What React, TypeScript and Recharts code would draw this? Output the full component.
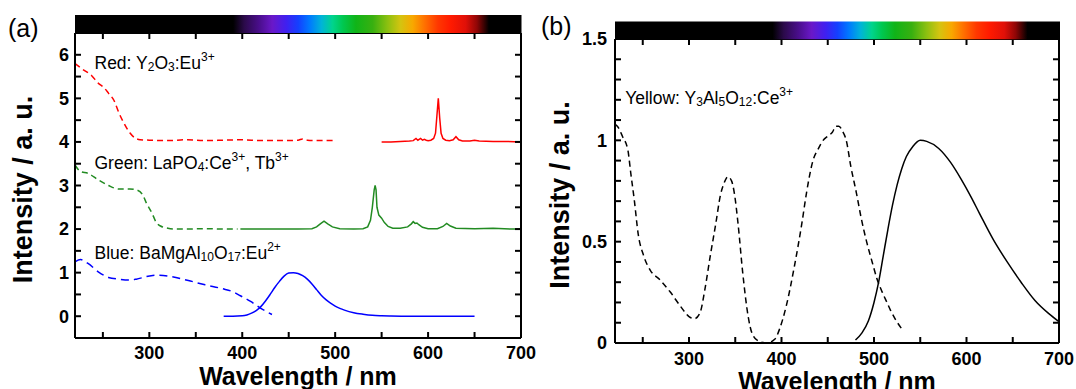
import React from 'react';
import { ComposedChart, Line, Scatter, XAxis, YAxis, ReferenceDot } from 'recharts';

const FONT = '"Liberation Sans", Arial, sans-serif';

// shared wavelength axis
const wlDomain: [number, number] = [220, 700];
const wlTicks = [250, 300, 350, 400, 450, 500, 550, 600, 650, 700];

// colour bar above each panel
const specWl = [390, 402, 418, 432, 447, 460, 472, 485, 497, 508, 522, 540, 556, 570, 583, 596, 610, 624, 640, 652, 665];
const specColor = [
  '#000000', '#2b0a4a', '#4a0e8c', '#6a18c8', '#4020f0', '#1440ff', '#0078ff', '#00b4d8', '#00d48c', '#00c850',
  '#10b418', '#38b010', '#8cc010', '#d4c410', '#f8a800', '#ff7000', '#ff3800', '#ff1a00', '#e01008', '#900606', '#000000',
];

// panel (a)
const aYDomain: [number, number] = [-0.5, 6.5];
const aYTicks = [0, 0.5, 1, 1.5, 2, 2.5, 3, 3.5, 4, 4.5, 5, 5.5, 6];

const redExWl = [220, 228, 238, 245, 251, 256, 262, 267, 273, 279, 284, 290, 300, 320, 340, 360, 380, 400, 420, 440, 460, 465, 470, 480, 500];
const redExI = [5.8, 5.67, 5.52, 5.35, 5.25, 5.12, 4.95, 4.68, 4.42, 4.21, 4.1, 4.05, 4.04, 4.03, 4.05, 4.03, 4.04, 4.05, 4.03, 4.03, 4.04, 4.07, 4.04, 4.03, 4.03];

const redEmWl = [550, 560, 570, 580, 584, 587, 589, 592, 594, 596, 598, 600, 603, 606, 608, 609.5, 611, 612.5, 614, 616, 619, 623, 627, 630, 633, 637, 645, 650, 655, 670, 685, 700];
const redEmI = [4.0, 4.0, 4.01, 4.02, 4.03, 4.08, 4.04, 4.08, 4.04, 4.06, 4.04, 4.03, 4.04, 4.08, 4.2, 4.6, 5.0, 4.55, 4.2, 4.08, 4.04, 4.03, 4.05, 4.12, 4.05, 4.02, 4.02, 4.04, 4.02, 4.01, 4.01, 4.0];

const greenExWl = [220, 226, 234, 245, 256, 267, 279, 286, 293, 297, 303, 307, 312, 320, 330, 340, 360, 380, 395];
const greenExI = [3.47, 3.32, 3.28, 3.13, 3.0, 2.92, 2.92, 2.9, 2.78, 2.59, 2.36, 2.17, 2.07, 2.02, 2.0, 2.0, 2.01, 2.0, 2.0];

const greenEmWl = [398, 420, 440, 460, 475, 480, 484, 488, 492, 497, 505, 520, 530, 535, 538, 540, 542, 543, 544, 545, 547, 550, 553, 557, 562, 570, 578, 582, 584, 586, 588, 590, 594, 600, 610, 616, 620, 624, 630, 650, 670, 690, 700];
const greenEmI = [2.0, 2.0, 2.0, 2.0, 2.01, 2.05, 2.12, 2.18, 2.12, 2.05, 2.01, 2.0, 2.01, 2.05, 2.2, 2.5, 2.9, 3.0, 2.9, 2.5, 2.32, 2.25, 2.15, 2.06, 2.02, 2.02, 2.05, 2.12, 2.17, 2.13, 2.14, 2.1, 2.04, 2.01, 2.01, 2.06, 2.13, 2.07, 2.02, 2.01, 2.02, 2.0, 2.0];

const blueExWl = [220, 226, 234, 245, 256, 267, 279, 286, 297, 308, 323, 342, 360, 379, 390, 398, 409, 420, 432];
const blueExI = [1.25, 1.3, 1.21, 1.02, 0.89, 0.85, 0.83, 0.85, 0.91, 0.94, 0.91, 0.82, 0.72, 0.63, 0.56, 0.47, 0.34, 0.18, 0.04];

const blueEmWl = [380, 390, 400, 405, 410, 415, 420, 425, 430, 435, 440, 445, 450, 455, 460, 465, 470, 475, 480, 485, 490, 495, 500, 505, 510, 520, 530, 540, 550, 560, 580, 600, 650];
const blueEmI = [0, 0, 0.01, 0.03, 0.07, 0.13, 0.22, 0.35, 0.5, 0.66, 0.8, 0.92, 0.99, 1.0, 0.98, 0.93, 0.85, 0.74, 0.61, 0.48, 0.38, 0.3, 0.23, 0.18, 0.14, 0.08, 0.045, 0.02, 0.01, 0.005, 0, 0, 0];

// panel (b)
const bYDomain: [number, number] = [0, 1.5];
const bYTicks = [0, 0.1, 0.2, 0.3, 0.4, 0.5, 0.6, 0.7, 0.8, 0.9, 1, 1.1, 1.2, 1.3, 1.4, 1.5];

const yagExWl = [220, 224, 228, 234, 237, 241, 245, 251, 258, 269, 280, 291, 300, 306, 312, 317, 323, 329, 334, 338, 342, 346, 349, 353, 358, 364, 368, 375, 384, 393, 398, 405, 414, 422, 427, 434, 440, 445, 450, 455, 459, 462, 466, 470, 475, 481, 486, 492, 498, 503, 509, 514, 518, 524, 530];
const yagExI = [1.08, 1.06, 1.02, 0.95, 0.84, 0.7, 0.54, 0.43, 0.36, 0.31, 0.25, 0.18, 0.13, 0.12, 0.15, 0.26, 0.43, 0.59, 0.73, 0.79, 0.82, 0.8, 0.74, 0.59, 0.35, 0.13, 0.05, 0.01, 0, 0.02, 0.07, 0.18, 0.38, 0.59, 0.74, 0.9, 0.96, 1.0, 1.02, 1.04, 1.07, 1.07, 1.045, 1.0, 0.87, 0.74, 0.62, 0.5, 0.4, 0.32, 0.25, 0.2, 0.16, 0.11, 0.07];

const yagEmWl = [480, 487, 494, 500, 505, 510, 515, 520, 525, 530, 535, 542, 550, 557, 570, 583, 594, 605, 614, 629, 644, 659, 674, 689, 700];
const yagEmI = [0.015, 0.05, 0.11, 0.2, 0.3, 0.43, 0.56, 0.68, 0.78, 0.86, 0.92, 0.97, 1.0, 0.995, 0.96, 0.89, 0.81, 0.72, 0.64, 0.51, 0.4, 0.3, 0.21, 0.145, 0.105];

// annotation texts: [text, n | sub | sup]
type Part = [string, 'n' | 'sub' | 'sup'];
const redLabel: Part[] = [['Red: Y', 'n'], ['2', 'sub'], ['O', 'n'], ['3', 'sub'], [':Eu', 'n'], ['3+', 'sup']];
const greenLabel: Part[] = [['Green: LaPO', 'n'], ['4', 'sub'], [':Ce', 'n'], ['3+', 'sup'], [', Tb', 'n'], ['3+', 'sup']];
const blueLabel: Part[] = [['Blue: BaMgAl', 'n'], ['10', 'sub'], ['O', 'n'], ['17', 'sub'], [':Eu', 'n'], ['2+', 'sup']];
const yellowLabel: Part[] = [['Yellow: Y', 'n'], ['3', 'sub'], ['Al', 'n'], ['5', 'sub'], ['O', 'n'], ['12', 'sub'], [':Ce', 'n'], ['3+', 'sup']];

const pts = (wl: number[], v: number[]) => wl.map((w, i) => ({ w, v: v[i] }));

const shift = { n: 0, sub: 4, sup: -6 };

const Formula = (props: any) => {
  const { viewBox, parts } = props;
  let prev: keyof typeof shift = 'n';
  return (
    <text x={viewBox.x} y={viewBox.y} dominantBaseline="central" fontSize={17.5} fill="#000" fontFamily={FONT}>
      {parts.map(([t, k]: Part, i: number) => {
        const dy = shift[k] - shift[prev];
        prev = k;
        return (
          <tspan key={i} dy={dy} fontSize={k === 'n' ? 17.5 : 12}>
            {t}
          </tspan>
        );
      })}
    </text>
  );
};

const YTitle = (props: any) => {
  const { viewBox, dx, dy } = props;
  const cx = viewBox.x + dx;
  const cy = viewBox.y + viewBox.height / 2 + dy;
  return (
    <text x={cx} y={cy} transform={`rotate(-90 ${cx} ${cy})`} textAnchor="middle" dominantBaseline="central"
      fontSize={27} fontWeight="bold" fill="#000" fontFamily={FONT}>
      Intensity / a. u.
    </text>
  );
};

// inward tick marks on all four sides, placed through the axis scales
const tickMarks = (yDomain: [number, number], yTicks: number[]) => [
  { key: 'b', data: wlTicks.map((w) => ({ w, v: yDomain[0] })), dx: 0, dy: -6 },
  { key: 't', data: wlTicks.map((w) => ({ w, v: yDomain[1] })), dx: 0, dy: 6 },
  { key: 'l', data: yTicks.map((v) => ({ w: wlDomain[0], v })), dx: 6, dy: 0 },
  { key: 'r', data: yTicks.map((v) => ({ w: wlDomain[1], v })), dx: -6, dy: 0 },
];

const tickShape = (dx: number, dy: number) => (p: any) => (
  <line x1={p.cx} y1={p.cy} x2={p.cx + dx} y2={p.cy + dy} stroke="#000" strokeWidth={2} />
);

const tickFont = { fontSize: 18, fontWeight: 'bold', fill: '#000', fontFamily: FONT };
const axisLine = { stroke: '#000', strokeWidth: 2 };
const xFmt = (v: number) => (v % 100 === 0 ? String(v) : '');

const Frame = (yDomain: [number, number], yTicks: number[], yFmt: (v: number) => string, xm: number, ym: number, bottomH: number, titleOffset: number, yTitleDx: number) => [
  <XAxis key="xb" dataKey="w" type="number" domain={wlDomain} ticks={wlTicks} interval={0} allowDataOverflow
    height={bottomH} tickSize={0} tickMargin={xm} tickLine={false} axisLine={axisLine} tick={tickFont} tickFormatter={xFmt}
    label={{ value: 'Wavelength / nm', position: 'insideBottom', offset: titleOffset, fontSize: 25, fontWeight: 'bold', fill: '#000', fontFamily: FONT }} />,
  <XAxis key="xt" xAxisId="top" orientation="top" dataKey="w" type="number" domain={wlDomain} ticks={wlTicks}
    allowDataOverflow height={1} tickSize={0} tickLine={false} tick={false} axisLine={axisLine} />,
  <YAxis key="yl" type="number" domain={yDomain} ticks={yTicks} interval={0} allowDataOverflow width={75}
    tickSize={0} tickMargin={ym} tickLine={false} axisLine={axisLine} tick={tickFont} tickFormatter={yFmt}
    label={<YTitle dx={yTitleDx} dy={4} />} />,
  <YAxis key="yr" yAxisId="right" orientation="right" type="number" domain={yDomain} ticks={yTicks}
    allowDataOverflow width={1} tickSize={0} tickLine={false} tick={false} axisLine={axisLine} />,
  ...tickMarks(yDomain, yTicks).map((t) => (
    <Scatter key={t.key} data={t.data} dataKey="v" shape={tickShape(t.dx, t.dy)} isAnimationActive={false} />
  )),
];

const aFmt = (v: number) => (Number.isInteger(v) ? String(v) : '');
const bFmt = (v: number) => (Math.abs(v * 2 - Math.round(v * 2)) < 1e-6 ? String(Math.round(v * 2) / 2) : '');

const green = '#228b22';

const PanelA = () => (
  <ComposedChart width={540} height={389} margin={{ top: 32, right: 18, bottom: 0, left: 0 }} style={{ fontFamily: FONT }}>
    {Frame(aYDomain, aYTicks, aFmt, 8, 6, 51, 4, 22.5)}
    <Line data={pts(redExWl, redExI)} dataKey="v" type="monotone" stroke="#ff0000" strokeWidth={1.5} strokeDasharray="6 4" dot={false} isAnimationActive={false} />
    <Line data={pts(redEmWl, redEmI)} dataKey="v" type="linear" stroke="#ff0000" strokeWidth={1.5} dot={false} isAnimationActive={false} />
    <Line data={pts(greenExWl, greenExI)} dataKey="v" type="monotone" stroke={green} strokeWidth={1.5} strokeDasharray="6 4" dot={false} isAnimationActive={false} />
    <Line data={pts(greenEmWl, greenEmI)} dataKey="v" type="linear" stroke={green} strokeWidth={1.5} dot={false} isAnimationActive={false} />
    <Line data={pts(blueExWl, blueExI)} dataKey="v" type="monotone" stroke="#0000ff" strokeWidth={1.5} strokeDasharray="8 5" dot={false} isAnimationActive={false} />
    <Line data={pts(blueEmWl, blueEmI)} dataKey="v" type="monotone" stroke="#0000ff" strokeWidth={1.5} dot={false} isAnimationActive={false} />
    <ReferenceDot x={241} y={5.82} r={0} stroke="none" fill="none" label={<Formula parts={redLabel} />} />
    <ReferenceDot x={241} y={3.51} r={0} stroke="none" fill="none" label={<Formula parts={greenLabel} />} />
    <ReferenceDot x={241} y={1.46} r={0} stroke="none" fill="none" label={<Formula parts={blueLabel} />} />
  </ComposedChart>
);

const PanelB = () => (
  <ComposedChart width={536} height={389} margin={{ top: 38, right: 16, bottom: 0, left: 0 }} style={{ fontFamily: FONT }}>
    {Frame(bYDomain, bYTicks, bFmt, 9, 8, 46, -1, 20)}
    <Line data={pts(yagExWl, yagExI)} dataKey="v" type="monotone" stroke="#000" strokeWidth={1.5} strokeDasharray="6 4" dot={false} isAnimationActive={false} />
    <Line data={pts(yagEmWl, yagEmI)} dataKey="v" type="monotone" stroke="#000" strokeWidth={1.5} dot={false} isAnimationActive={false} />
    <ReferenceDot x={231} y={1.21} r={0} stroke="none" fill="none" label={<Formula parts={yellowLabel} />} />
  </ComposedChart>
);

const stopOffset = (w: number) => (w - wlDomain[0]) / (wlDomain[1] - wlDomain[0]);

export default function App() {
  return (
    <div style={{ position: 'absolute', left: 0, top: 0, width: 1076, height: 389, background: '#fff', overflow: 'hidden', fontFamily: FONT }}>
      <div style={{ position: 'absolute', left: 0, top: 0 }}>
        <PanelA />
      </div>
      <div style={{ position: 'absolute', left: 540, top: 0 }}>
        <PanelB />
      </div>
      <svg width={1076} height={389} style={{ position: 'absolute', left: 0, top: 0, pointerEvents: 'none' }}>
        <defs>
          <linearGradient id="spec" x1="0" x2="1" y1="0" y2="0">
            <stop offset={0} stopColor="#000" />
            {specWl.map((w, i) => (
              <stop key={i} offset={stopOffset(w)} stopColor={specColor[i]} />
            ))}
            <stop offset={1} stopColor="#000" />
          </linearGradient>
        </defs>
        <rect x={75} y={15} width={446.5} height={18} fill="url(#spec)" />
        <rect x={615} y={21.5} width={445} height={17.8} fill="url(#spec)" />
        <text x={8} y={37} fontSize={25} fill="#000" fontFamily={FONT}>(a)</text>
        <text x={541} y={35} fontSize={25} fill="#000" fontFamily={FONT}>(b)</text>
      </svg>
    </div>
  );
}
